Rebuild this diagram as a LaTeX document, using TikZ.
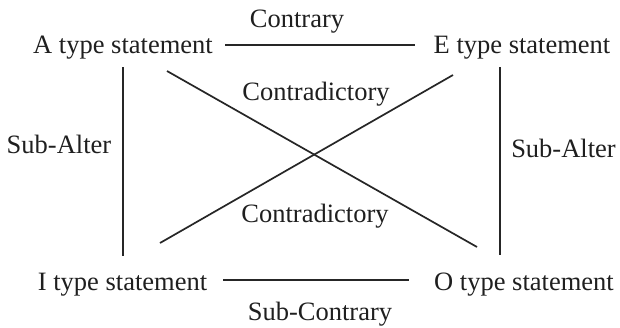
\documentclass[tikz,border=0pt]{standalone}
\usepackage{fontspec}
\setmainfont{Liberation Serif}
\begin{document}
\begin{tikzpicture}[x=1pt,y=-1pt,
  lbl/.style={anchor=base,inner sep=0pt,font=\fontsize{26.5}{30}\selectfont,text=black!88},
  conn/.style={line width=1.7pt,draw=black!85}]
\useasboundingbox[fill=white] (0,0) rectangle (620,327);
% statements
\node[lbl] (A) at (123,53) {A type statement};
\node[lbl] (E) at (522,53) {E type statement};
\node[lbl] (I) at (122.5,290) {I type statement};
\node[lbl] (O) at (524,290) {O type statement};
% relation labels
\node[lbl] (contrary) at (297,27) {Contrary};
\node[lbl] (subcontrary) at (320,320.5) {Sub-Contrary};
\node[lbl] (cd1) at (316,100) {Contradictory};
\node[lbl] (cd2) at (315,222) {Contradictory};
\node[lbl] (sa1) at (59,153) {Sub-Alter};
\node[lbl] (sa2) at (563.5,157) {Sub-Alter};
% connectors
\draw[conn] ([shift={(102,-8)}]A.base) -- ([shift={(-107,-8)}]E.base);
\draw[conn] ([shift={(100.5,-10)}]I.base) -- ([shift={(-115,-10)}]O.base);
\draw[conn] ([shift={(0,14)}]A.base) -- ([shift={(0.5,-34)}]I.base);
\draw[conn] ([shift={(-22,14)}]E.base) -- ([shift={(-24,-35)}]O.base);
\draw[conn] ([shift={(44,18)}]A.base) -- ([shift={(-47,-43)}]O.base);
\draw[conn] ([shift={(37.5,-47)}]I.base) -- ([shift={(-69,22)}]E.base);
\end{tikzpicture}
\end{document}
